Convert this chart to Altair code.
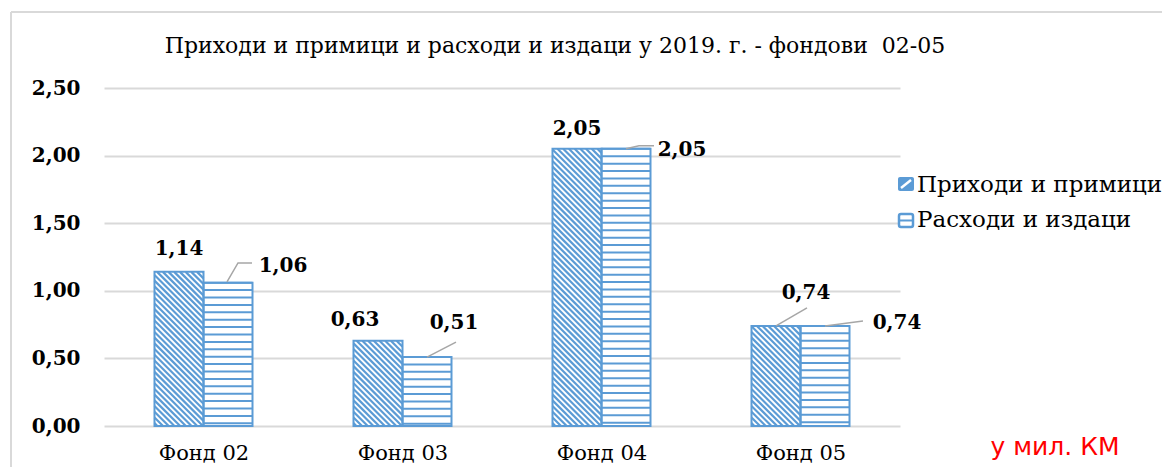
import altair as alt
import pandas as pd
import numpy as np

# ---------------- data ----------------
categories = ["Фонд 02", "Фонд 03", "Фонд 04", "Фонд 05"]
series = ["Приходи и примици", "Расходи и издаци"]
prihodi = [1.14, 0.63, 2.05, 0.74]
rashodi = [1.06, 0.51, 2.05, 0.74]
y_ticks = [0.0, 0.5, 1.0, 1.5, 2.0, 2.5]
title_text = "Приходи и примици и расходи и издаци у 2019. г. - фондови \u00a002-05"
unit_text = "у мил. КМ"

# ---------------- layout / style ----------------
W, H = 796, 338
YMAX = 2.5
PX_X = W / 4.0
PX_Y = H / YMAX
BW = 49 / PX_X
BLUE = "#5b9bd5"
GRID = "#d9d9d9"
SERIF = "DejaVu Serif"

# label offsets in px (dx, dy up) relative to bar-top centre
label_offsets = [[(0, 23), (55, 17)], [(-23, 21), (27, 34)],
                 [(0, 20), (56, -1)], [(30, 33), (72, 3)]]
leader_offsets = {(0, 1): [(-1, 0.7), (10, 19.7), (24, 19.7)],
                  (1, 1): [(0, 0), (29, 15)],
                  (2, 1): [(0, 0), (13, 3), (28, 3)],
                  (3, 0): [(0, 0), (31, 18)],
                  (3, 1): [(0, 0), (38, 5)]}

values = [prihodi, rashodi]

bars, diag, horiz, labels, leaders = [], [], [], [], []
for i, cat in enumerate(categories):
    c = i + 0.5
    for s in range(2):
        v = values[s][i]
        xl = c - BW + s * BW
        xr = xl + BW
        bars.append({"cat": cat, "series": series[s], "x": xl, "x2": xr, "y": 0.0, "y2": v})
        w = BW * PX_X
        h = v * PX_Y
        if s == 0:
            step = 5.7
            cc = step / 2
            while cc < w + h:
                u0 = max(0.0, cc - h)
                u1 = min(w, cc)
                diag.append({"x": xl + u0 / PX_X, "x2": xl + u1 / PX_X,
                             "y": (cc - u0) / PX_Y, "y2": (cc - u1) / PX_Y})
                cc += step
        else:
            step = 7.4
            vv = h
            while vv > 0.5:
                horiz.append({"x": xl, "x2": xr, "y": vv / PX_Y, "y2": vv / PX_Y})
                vv -= step
        cx = xl + BW / 2
        dx, dy = label_offsets[i][s]
        labels.append({"x": cx + dx / PX_X, "y": v + dy / PX_Y,
                       "text": f"{v:.2f}".replace(".", ",")})
        if (i, s) in leader_offsets:
            for k, (lx, ly) in enumerate(leader_offsets[(i, s)]):
                leaders.append({"id": f"{i}-{s}", "k": k,
                                "x": cx + lx / PX_X, "y": v + ly / PX_Y})

bars_df = pd.DataFrame(bars)
diag_df = pd.DataFrame(diag)
horiz_df = pd.DataFrame(horiz)
labels_df = pd.DataFrame(labels)
leaders_df = pd.DataFrame(leaders)
one = pd.DataFrame({"a": [0]})

xscale = alt.Scale(domain=[0, 4], nice=False, zero=False)
yscale = alt.Scale(domain=[0, YMAX], nice=False, zero=True)

label_expr = "[" + ",".join(f"'{c}'" for c in categories) + "][floor(datum.value)]"

base_bars = alt.Chart(bars_df).mark_rect(fill="white").encode(
    x=alt.X("x:Q", scale=xscale, title=None,
            axis=alt.Axis(values=[0.5, 1.5, 2.5, 3.5], labelExpr=label_expr,
                          grid=False, ticks=False, domain=False,
                          labelFont=SERIF, labelFontSize=21, labelColor="black",
                          labelPadding=16)),
    x2="x2:Q",
    y=alt.Y("y:Q", scale=yscale, title=None,
            axis=alt.Axis(values=y_ticks,
                          labelExpr="replace(format(datum.value, '.2f'), '.', ',')",
                          grid=True, gridColor=GRID, gridWidth=2, ticks=False,
                          domain=False, labelFont=SERIF, labelFontSize=20,
                          labelFontWeight="bold", labelColor="black",
                          labelPadding=24)),
    y2="y2:Q",
)

diag_layer = alt.Chart(diag_df).mark_rule(color=BLUE, strokeWidth=2.2).encode(
    x=alt.X("x:Q", scale=xscale), x2="x2:Q",
    y=alt.Y("y:Q", scale=yscale), y2="y2:Q")

horiz_layer = alt.Chart(horiz_df).mark_rule(color=BLUE, strokeWidth=2).encode(
    x=alt.X("x:Q", scale=xscale), x2="x2:Q",
    y=alt.Y("y:Q", scale=yscale), y2="y2:Q")

outline = alt.Chart(bars_df).mark_rect(fillOpacity=0, stroke=BLUE, strokeWidth=2).encode(
    x=alt.X("x:Q", scale=xscale), x2="x2:Q",
    y=alt.Y("y:Q", scale=yscale), y2="y2:Q")

leader_layer = alt.Chart(leaders_df).mark_line(color="#a6a6a6", strokeWidth=1.5).encode(
    x=alt.X("x:Q", scale=xscale), y=alt.Y("y:Q", scale=yscale),
    detail="id:N", order="k:Q")

label_layer = alt.Chart(labels_df).mark_text(
    font=SERIF, fontSize=20, fontWeight="bold", color="black",
    align="center", baseline="middle").encode(
    x=alt.X("x:Q", scale=xscale), y=alt.Y("y:Q", scale=yscale), text="text:N")

# frame lines
frame_v = alt.Chart(one).mark_rule(color=GRID, strokeWidth=2).encode(
    x=alt.value(-93), y=alt.value(-76), y2=alt.value(400))
frame_h = alt.Chart(one).mark_rule(color=GRID, strokeWidth=2).encode(
    x=alt.value(-93), x2=alt.value(1070), y=alt.value(-76))

title_layer = alt.Chart(pd.DataFrame({"t": [title_text]})).mark_text(
    font=SERIF, fontSize=22, color="black", align="center", baseline="middle").encode(
    x=alt.value(451), y=alt.value(-42), text="t:N")

unit_layer = alt.Chart(pd.DataFrame({"t": [unit_text]})).mark_text(
    font="DejaVu Sans", fontSize=25, color="#ff0000", align="center", baseline="middle").encode(
    x=alt.value(951), y=alt.value(359), text="t:N")

# legend (manual)
sym1 = alt.Chart(one).mark_rect(fill=BLUE, cornerRadius=2).encode(
    x=alt.value(794), x2=alt.value(810), y=alt.value(89), y2=alt.value(103))
sym1_mark = alt.Chart(one).mark_rule(color="white", strokeWidth=2.5).encode(
    x=alt.value(797), x2=alt.value(807), y=alt.value(100), y2=alt.value(92))
sym2 = alt.Chart(one).mark_rect(fill="white", stroke=BLUE, strokeWidth=2.5, cornerRadius=2).encode(
    x=alt.value(795), x2=alt.value(809), y=alt.value(126), y2=alt.value(139))
sym2_mark = alt.Chart(one).mark_rule(color=BLUE, strokeWidth=2).encode(
    x=alt.value(795), x2=alt.value(809), y=alt.value(132.5))
leg_text1 = alt.Chart(pd.DataFrame({"t": [series[0]]})).mark_text(
    font=SERIF, fontSize=23, color="black", align="left", baseline="middle").encode(
    x=alt.value(813), y=alt.value(97), text="t:N")
leg_text2 = alt.Chart(pd.DataFrame({"t": [series[1]]})).mark_text(
    font=SERIF, fontSize=23, color="black", align="left", baseline="middle").encode(
    x=alt.value(813), y=alt.value(132), text="t:N")

chart = alt.layer(
    base_bars, diag_layer, horiz_layer, outline, leader_layer, label_layer,
    frame_v, frame_h, title_layer, unit_layer,
    sym1, sym1_mark, sym2, sym2_mark, leg_text1, leg_text2,
).properties(
    width=W, height=H,
    autosize=alt.AutoSizeParams(type="none"),
    padding={"left": 96, "top": 80, "right": 262, "bottom": 41},
    background="white",
).configure_view(stroke=None)

chart.save("out.html", embed_options={"renderer": "svg", "actions": False})
